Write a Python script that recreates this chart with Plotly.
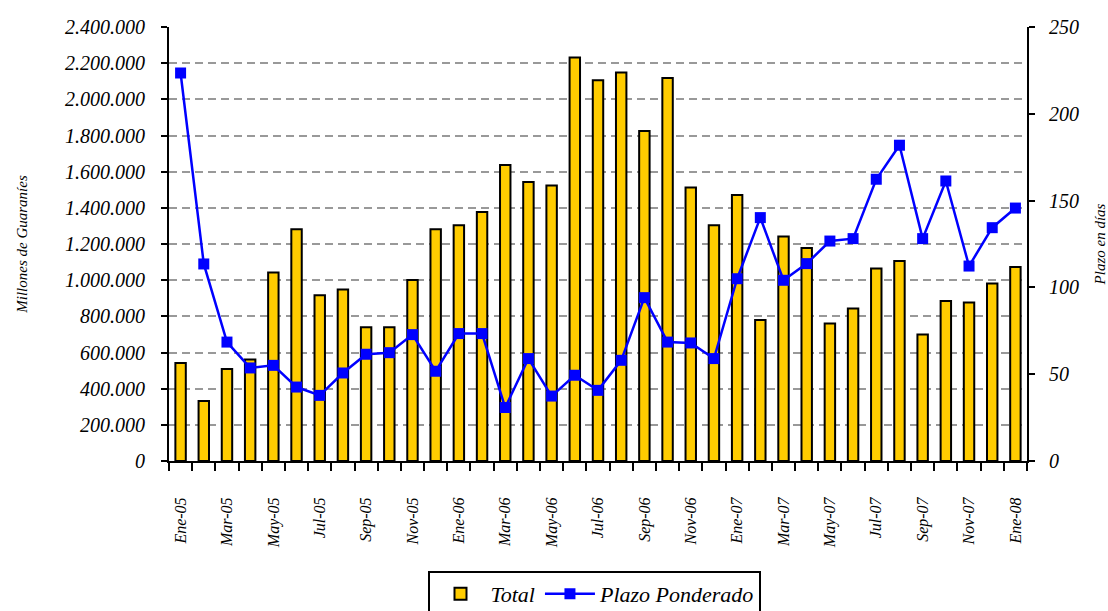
import plotly.graph_objects as go

months = ["Ene-05", "Feb-05", "Mar-05", "Abr-05", "May-05", "Jun-05", "Jul-05", "Ago-05",
          "Sep-05", "Oct-05", "Nov-05", "Dic-05", "Ene-06", "Feb-06", "Mar-06", "Abr-06",
          "May-06", "Jun-06", "Jul-06", "Ago-06", "Sep-06", "Oct-06", "Nov-06", "Dic-06",
          "Ene-07", "Feb-07", "Mar-07", "Abr-07", "May-07", "Jun-07", "Jul-07", "Ago-07",
          "Sep-07", "Oct-07", "Nov-07", "Dic-07", "Ene-08"]

total = [542000, 332000, 509000, 561000, 1042000, 1281000, 916000, 948000,
         739000, 739000, 1001000, 1281000, 1303000, 1377000, 1637000, 1543000,
         1523000, 2232000, 2105000, 2149000, 1825000, 2118000, 1512000, 1303000,
         1471000, 780000, 1241000, 1178000, 760000, 844000, 1064000, 1106000,
         699000, 885000, 876000, 981000, 1073000]

plazo = [223.5, 113.5, 68.5, 53.6, 55.1, 42.6, 37.8, 50.7,
         61.5, 62.4, 72.8, 51.7, 73.4, 73.4, 30.8, 59.0,
         37.4, 49.4, 40.7, 58.0, 94.1, 68.5, 68.0, 59.0,
         105.0, 140.2, 104.1, 113.7, 126.7, 128.1, 162.3, 181.9,
         128.1, 161.3, 112.3, 134.4, 145.7]

left_ticks = list(range(0, 2400001, 200000))
right_ticks = [0, 50, 100, 150, 200, 250]

idx = list(range(len(months)))
label_idx = idx[::2]
label_txt = [months[i] for i in label_idx]

FONT = "Liberation Serif"

fig = go.Figure()
fig.add_trace(go.Bar(
    x=idx, y=total, name="Total", width=0.45,
    marker=dict(color="#FFCC00", line=dict(color="black", width=2)),
    yaxis="y",
))
fig.add_trace(go.Scatter(
    x=idx, y=plazo, name="Plazo Ponderado", mode="lines+markers",
    line=dict(color="#0000FF", width=2.5),
    marker=dict(symbol="square", size=11, color="#0000FF"),
    yaxis="y2",
))

fig.update_layout(
    width=1108, height=611, autosize=False,
    margin=dict(l=169, r=81, t=27, b=150, autoexpand=False),
    paper_bgcolor="white", plot_bgcolor="white",
    separators=",.",
    font=dict(family=FONT, style="italic", color="black", size=17),
    showlegend=True,
    legend=dict(
        orientation="h", x=0.4965, xanchor="center", y=-0.2535, yanchor="top",
        bordercolor="black", borderwidth=2, bgcolor="white",
        font=dict(family=FONT, style="italic", size=22, color="black"),
        itemwidth=50,
    ),
    xaxis=dict(
        type="linear", range=[-0.5, len(months) - 0.5], automargin=False,
        tickmode="array", tickvals=label_idx, ticktext=label_txt,
        tickangle=-90, ticks="", ticklabelstandoff=28,
        tickfont=dict(family=FONT, style="italic", size=16, color="black"),
        showline=True, linecolor="black", linewidth=2, showgrid=False, zeroline=False,
        minor=dict(tick0=-0.5, dtick=1, ticks="outside", ticklen=8, tickwidth=2,
                   tickcolor="black", showgrid=False),
    ),
    yaxis=dict(
        range=[0, 2400000], tickmode="array", tickvals=left_ticks, tickformat=",d",
        automargin=False,
        ticks="outside", ticklen=6, tickwidth=2, tickcolor="black",
        showline=True, linecolor="black", linewidth=2,
        showgrid=True, gridcolor="#999999", gridwidth=2, griddash="8px,5px",
        zeroline=False, ticklabelstandoff=12,
        tickfont=dict(family=FONT, style="italic", size=20, color="black"),
        title=dict(text="Millones de Guaraníes", standoff=34,
                   font=dict(family=FONT, style="italic", size=15, color="black")),
    ),
    yaxis2=dict(
        range=[0, 250], tickmode="array", tickvals=right_ticks,
        overlaying="y", side="right", automargin=False,
        ticks="outside", ticklen=6, tickwidth=2, tickcolor="black",
        showline=True, linecolor="black", linewidth=2,
        showgrid=False, zeroline=False, ticklabelstandoff=10,
        tickfont=dict(family=FONT, style="italic", size=20, color="black"),
        title=dict(text="Plazo en días", standoff=28,
                   font=dict(family=FONT, style="italic", size=15, color="black")),
    ),
    yaxis3=dict(
        range=[0, 250], tickmode="array", tickvals=right_ticks,
        overlaying="y", side="right", automargin=False,
        ticks="inside", ticklen=6, tickwidth=2, tickcolor="black",
        showticklabels=False, showline=False, showgrid=False, zeroline=False,
    ),
)

fig.write_html("out.html", config={"displayModeBar": False},
               post_script="document.body.style.margin='0';document.body.style.padding='0';")
